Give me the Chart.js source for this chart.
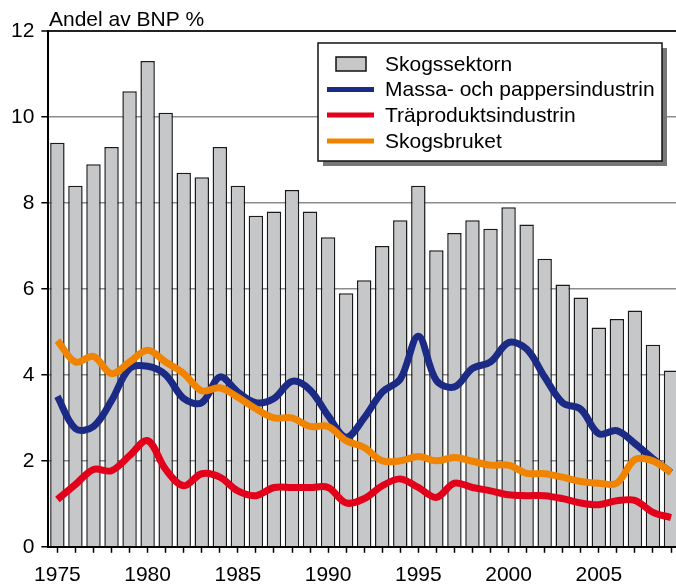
<!DOCTYPE html>
<html>
<head>
<meta charset="utf-8">
<script src="https://cdn.jsdelivr.net/npm/chart.js@4"></script>
<style>
    html, body { margin: 0; padding: 0; background: #fff; overflow: hidden; }
    #wrap { position: relative; width: 681px; height: 600px; }
</style>
</head>
<body>
<div id="wrap"><canvas id="chart"></canvas></div>
<script>
// Data
const years = ['1975', '1976', '1977', '1978', '1979', '1980', '1981', '1982', '1983', '1984',
    '1985', '1986', '1987', '1988', '1989', '1990', '1991', '1992', '1993', '1994',
    '1995', '1996', '1997', '1998', '1999', '2000', '2001', '2002', '2003', '2004',
    '2005', '2006', '2007', '2008', '2009'];
const shownYears = ['1975', '1980', '1985', '1990', '1995', '2000', '2005'];
const yTicks = [0, 2, 4, 6, 8, 10, 12];

const skogssektorn = [9.4, 8.4, 8.9, 9.3, 10.6, 11.3, 10.1, 8.7, 8.6, 9.3,
    8.4, 7.7, 7.8, 8.3, 7.8, 7.2, 5.9, 6.2, 7.0, 7.6,
    8.4, 6.9, 7.3, 7.6, 7.4, 7.9, 7.5, 6.7, 6.1, 5.8,
    5.1, 5.3, 5.5, 4.7, 4.1];
const massaPapper = [3.5, 2.75, 2.8, 3.4, 4.15, 4.2, 4.0, 3.45, 3.35, 3.95,
    3.6, 3.35, 3.45, 3.85, 3.65, 3.05, 2.55, 3.0, 3.6, 3.9,
    4.9, 3.87, 3.72, 4.15, 4.3, 4.75, 4.6, 3.95, 3.35, 3.2,
    2.63, 2.7, 2.4, 2.05, 1.73];
const traprodukt = [1.1, 1.45, 1.8, 1.77, 2.12, 2.47, 1.8, 1.42, 1.7, 1.62,
    1.3, 1.19, 1.38, 1.38, 1.38, 1.38, 1.02, 1.12, 1.42, 1.58,
    1.38, 1.15, 1.48, 1.38, 1.3, 1.21, 1.19, 1.19, 1.12, 1.02,
    0.98, 1.07, 1.08, 0.8, 0.68];
const skogsbruket = [4.8, 4.3, 4.43, 4.03, 4.3, 4.57, 4.3, 4.03, 3.63, 3.7,
    3.48, 3.21, 3.0, 3.0, 2.8, 2.8, 2.47, 2.31, 2.0, 2.0,
    2.1, 2.0, 2.08, 1.99, 1.9, 1.9, 1.71, 1.7, 1.62, 1.52,
    1.48, 1.48, 2.03, 2.0, 1.73];

const FONT = 'Liberation Sans, Arial, sans-serif';

// Legend box and y-axis caption, drawn on top of everything
const overlayPlugin = {
    id: 'overlay',
    afterDraw(chart) {
        const ctx = chart.ctx;
        ctx.save();

        ctx.fillStyle = '#000';
        ctx.font = '21px ' + FONT;
        ctx.textBaseline = 'alphabetic';
        ctx.textAlign = 'left';
        ctx.fillText('Andel av BNP %', 49, 26);

        const box = { x: 318, y: 43, w: 344, h: 118 };
        ctx.fillStyle = '#777';
        ctx.fillRect(box.x + 5, box.y + 5, box.w, box.h);
        ctx.fillStyle = '#fff';
        ctx.fillRect(box.x, box.y, box.w, box.h);
        ctx.strokeStyle = '#111';
        ctx.lineWidth = 1.5;
        ctx.strokeRect(box.x, box.y, box.w, box.h);

        ctx.font = '21px ' + FONT;
        ctx.textBaseline = 'middle';
        const rows = [64, 89.5, 115, 141];
        chart.data.datasets.forEach((ds) => {
            const y = rows[ds.legendRow];
            if (ds.type === 'bar') {
                ctx.fillStyle = ds.backgroundColor;
                ctx.fillRect(336, y - 7, 30, 14);
                ctx.strokeStyle = '#111';
                ctx.lineWidth = 1.5;
                ctx.strokeRect(336, y - 7, 30, 14);
            } else {
                ctx.strokeStyle = ds.borderColor;
                ctx.lineWidth = 5;
                ctx.beginPath();
                ctx.moveTo(327, y);
                ctx.lineTo(374, y);
                ctx.stroke();
            }
            ctx.fillStyle = '#000';
            ctx.fillText(ds.label, 385, y + 1);
        });
        ctx.restore();
    },
};

const lineStyle = {
    type: 'line',
    borderWidth: 7,
    pointRadius: 0,
    tension: 0.35,
    borderJoinStyle: 'round',
    fill: false,
};

new Chart(document.getElementById('chart'), {
    data: {
        labels: years,
        datasets: [
            {
                type: 'bar',
                label: 'Skogssektorn',
                data: skogssektorn,
                backgroundColor: '#c6c7c9',
                borderColor: '#1a1a1a',
                borderWidth: 1.5,
                categoryPercentage: 1,
                barPercentage: 0.8,
                order: 4,
                legendRow: 0,
            },
            { ...lineStyle, label: 'Massa- och pappersindustrin', data: massaPapper, borderColor: '#1b2a84', order: 2, legendRow: 1 },
            { ...lineStyle, label: 'Träproduktsindustrin', data: traprodukt, borderColor: '#e2001a', order: 1, legendRow: 2 },
            { ...lineStyle, label: 'Skogsbruket', data: skogsbruket, borderColor: '#f08300', order: 0, legendRow: 3 },
        ],
    },
    options: {
        responsive: true,
        maintainAspectRatio: false,
        animation: false,
        layout: { padding: { top: 31, left: 4, right: 0, bottom: 2 } },
        plugins: {
            legend: { display: false },
            tooltip: { enabled: false },
            title: { display: false },
        },
        scales: {
            x: {
                type: 'category',
                offset: true,
                border: { display: true, color: '#000', width: 2 },
                grid: {
                    display: true,
                    drawOnChartArea: false,
                    drawTicks: true,
                    tickLength: 6,
                    tickColor: '#000',
                    tickWidth: 1.5,
                    offset: false,
                },
                ticks: {
                    autoSkip: false,
                    maxRotation: 0,
                    padding: 10,
                    color: '#000',
                    font: { size: 21, family: FONT },
                    callback: function (value) {
                        const label = this.getLabelForValue(value);
                        return shownYears.includes(label) ? label : '';
                    },
                },
            },
            y: {
                min: 0,
                max: 12,
                afterBuildTicks: (axis) => {
                    axis.ticks = yTicks.map((v) => ({ value: v }));
                },
                border: { display: true, color: '#000', width: 2 },
                grid: {
                    color: (c) => (c.tick && c.tick.value === 12 ? '#222' : '#8c8c8c'),
                    lineWidth: (c) => (c.tick && c.tick.value === 12 ? 2 : 1.5),
                    tickLength: 7,
                    tickColor: '#000',
                    tickWidth: 1.5,
                },
                ticks: {
                    padding: 7,
                    color: '#000',
                    font: { size: 21, family: FONT },
                },
            },
        },
    },
    plugins: [overlayPlugin],
});
</script>
</body>
</html>
